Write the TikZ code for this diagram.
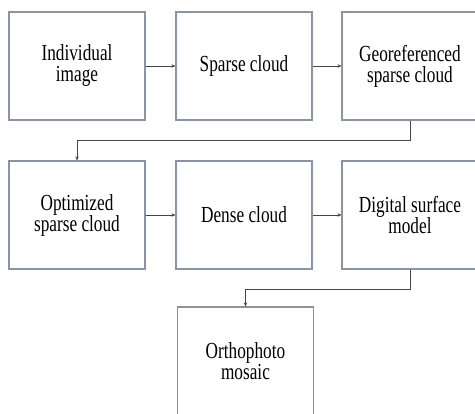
\documentclass[tikz,border=0pt]{standalone}
\usepackage{fontspec}
\setmainfont[FakeStretch=0.75]{Liberation Serif}
\usetikzlibrary{arrows.meta}
\definecolor{boxline}{HTML}{8A94A6}
\definecolor{arrline}{HTML}{454545}
\tikzset{
  stepbox/.style={draw=boxline, line width=1.1pt, minimum width=136pt, minimum height=108pt,
    align=center, inner sep=0pt, font=\fontsize{23}{21}\selectfont},
  arr/.style={draw=arrline, line width=0.9pt, -{Stealth[length=4pt,width=3.5pt]}}
}
\begin{document}
\begin{tikzpicture}[x=1pt,y=-1pt]
\clip (0,0) rectangle (475,414);
\node[stepbox] (b1) at (77,66) {Individual\\image};
\node[stepbox] (b2) at (244,66) {Sparse cloud};
\node[stepbox] (b3) at (410,66) {Georeferenced\\sparse cloud};
\node[stepbox] (b4) at (77,215) {Optimized\\sparse cloud};
\node[stepbox] (b5) at (244,215) {Dense cloud};
\node[stepbox] (b6) at (410,215) {Digital surface\\model};
\node[stepbox] (b7) at (245.5,361) {Orthophoto\\mosaic};
\draw[arr] (b1) -- (b2);
\draw[arr] (b2) -- (b3);
\draw[arr] (b3.south) -- ++(0,20) -| (b4.north);
\draw[arr] (b4) -- (b5);
\draw[arr] (b5) -- (b6);
\draw[arr] (b6.south) -- ++(0,20) -| (b7.north);
\end{tikzpicture}
\end{document}
